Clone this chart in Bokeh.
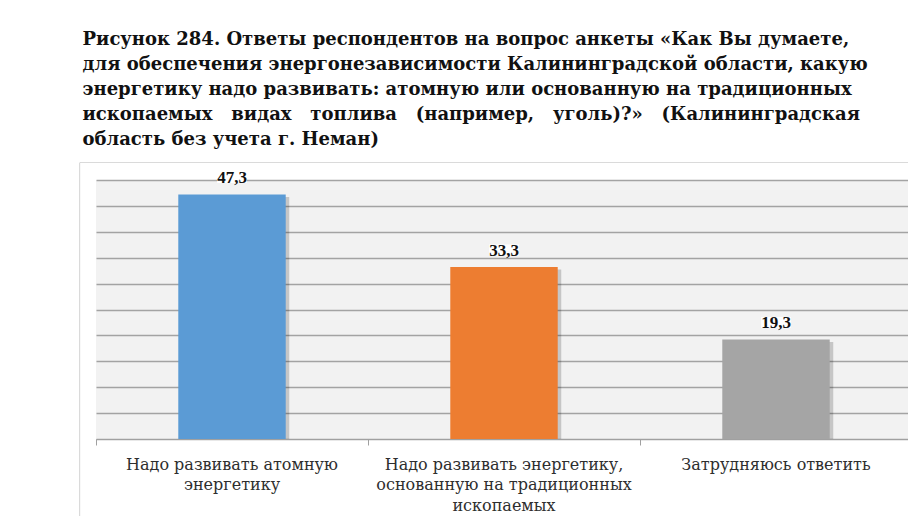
from bokeh.plotting import figure
from bokeh.models import (ColumnDataSource, LabelSet, LinearAxis, FixedTicker, Grid,
                          BoxAnnotation, Span, Range1d)
from bokeh.layouts import column
from bokeh.core.properties import value
from bokeh.embed import file_html
from bokeh.resources import INLINE

# ---------------- data ----------------
NB = "\u00a0\u00a0"
title_lines = [
    "Рисунок 284. Ответы респондентов на вопрос анкеты «Как Вы думаете,",
    "для обеспечения энергонезависимости Калининградской области, какую",
    "энергетику надо развивать: атомную или основанную на традиционных",
    "ископаемых" + NB + " видах" + NB + " топлива" + NB + " (например," + NB
    + " уголь)?»" + NB + " (Калининградская",
    "область без учета г. Неман)",
]
categories = [
    "Надо развивать атомную\nэнергетику",
    "Надо развивать энергетику,\nоснованную на традиционных\nископаемых",
    "Затрудняюсь ответить",
]
values = [47.3, 33.3, 19.3]
value_labels = ["47,3", "33,3", "19,3"]
colors = ["#5b9bd5", "#ed7d31", "#a5a5a5"]
grid_ticks = [0, 5, 10, 15, 20, 25, 30, 35, 40, 45, 50]

W = 908
LEFT = 79
FRAME_W = W - LEFT
SERIF = "DejaVu Serif"

# ---------------- title figure ----------------
TH = 162
t = figure(width=W, height=TH, x_range=Range1d(0, FRAME_W), y_range=Range1d(0, TH),
           output_backend="svg", toolbar_location=None,
           min_border_left=LEFT, min_border_right=0, min_border_top=0, min_border_bottom=0,
           x_axis_type=None, y_axis_type=None)
t.grid.visible = False
t.outline_line_color = None
line_step = 25
first_base = 124
tsrc = ColumnDataSource(dict(
    x=[3] * len(title_lines),
    y=[first_base - i * line_step for i in range(len(title_lines))],
    text=title_lines,
))
t.text(x="x", y="y", text="text", source=tsrc,
       text_font=value(SERIF), text_font_style="bold",
       text_font_size="18px", text_color="#111111",
       text_align="left", text_baseline="alphabetic")

# ---------------- chart figure ----------------
CH = 354
unit_px = 272.0
left_pad_px = 16.5
x_start = -left_pad_px / unit_px
x_end = x_start + FRAME_W / unit_px
zero_px = 77          # distance of value 0 above the bottom of the frame
top_px = 18           # distance of value 50 below the top of the frame
px_per_val = (CH - zero_px - top_px) / 50.0
y_start = -zero_px / px_per_val
y_end = 50 + top_px / px_per_val

p = figure(width=W, height=CH, x_range=Range1d(x_start, x_end),
           y_range=Range1d(y_start, y_end),
           output_backend="svg", toolbar_location=None,
           x_axis_type=None, y_axis_type=None,
           min_border_left=LEFT, min_border_right=0, min_border_top=0, min_border_bottom=0)
p.outline_line_color = None
p.background_fill_color = "white"
p.border_fill_color = "white"

n = len(categories)
xs = [i + 0.5 for i in range(n)]

p.add_layout(BoxAnnotation(left=0, right=n, bottom=grid_ticks[0], top=grid_ticks[-1],
                           fill_color="#f2f2f2", fill_alpha=1.0, line_color=None,
                           level="underlay"))

grid = Grid(dimension=1, ticker=FixedTicker(ticks=grid_ticks),
            grid_line_color="#a3a3a3", grid_line_width=1.3)
if "cross_bounds" in Grid.properties():
    grid.cross_bounds = (0, n)
p.add_layout(grid)

src = ColumnDataSource(dict(
    x=xs,
    top=values,
    color=colors,
    label=value_labels,
    sx=[v + 0.013 for v in xs],
    stop=[v - 0.5 for v in values],
))
p.vbar(x="sx", top="stop", bottom=0, width=0.395, source=src,
       fill_color="#000000", fill_alpha=0.18, line_color=None)
p.vbar(x="x", top="top", bottom=0, width=0.395, source=src,
       fill_color="color", line_color=None)

labels = LabelSet(x="x", y="top", text="label", source=src,
                  text_align="center", text_baseline="middle", y_offset=17,
                  text_font=SERIF, text_font_style="bold",
                  text_font_size="17px", text_color="#111111",
                  background_fill_color="white")
if "padding" in LabelSet.properties():
    labels.padding = 4
p.add_layout(labels)

xaxis = LinearAxis(ticker=FixedTicker(ticks=xs, minor_ticks=[0, 1, 2, 3]),
                   major_label_overrides={x: c for x, c in zip(xs, categories)},
                   fixed_location=0, bounds=(0, n))
xaxis.axis_line_color = "#a0a0a0"
xaxis.axis_line_width = 1.2
xaxis.major_tick_line_color = None
xaxis.minor_tick_line_color = "#a0a0a0"
xaxis.minor_tick_in = 0
xaxis.minor_tick_out = 6
xaxis.major_label_standoff = 9
xaxis.major_label_text_font = SERIF
xaxis.major_label_text_font_size = "16px"
xaxis.major_label_text_color = "#2e2e2e"
xaxis.major_label_text_line_height = 1.1
p.add_layout(xaxis, "below")

p.add_layout(Span(location=y_end, dimension="width", line_color="#b5b5b5", line_width=1.2))
p.add_layout(Span(location=x_start, dimension="height", line_color="#b5b5b5", line_width=1.2))

layout = column(t, p, spacing=0)
open("out.html", "w").write(file_html(layout, INLINE))
